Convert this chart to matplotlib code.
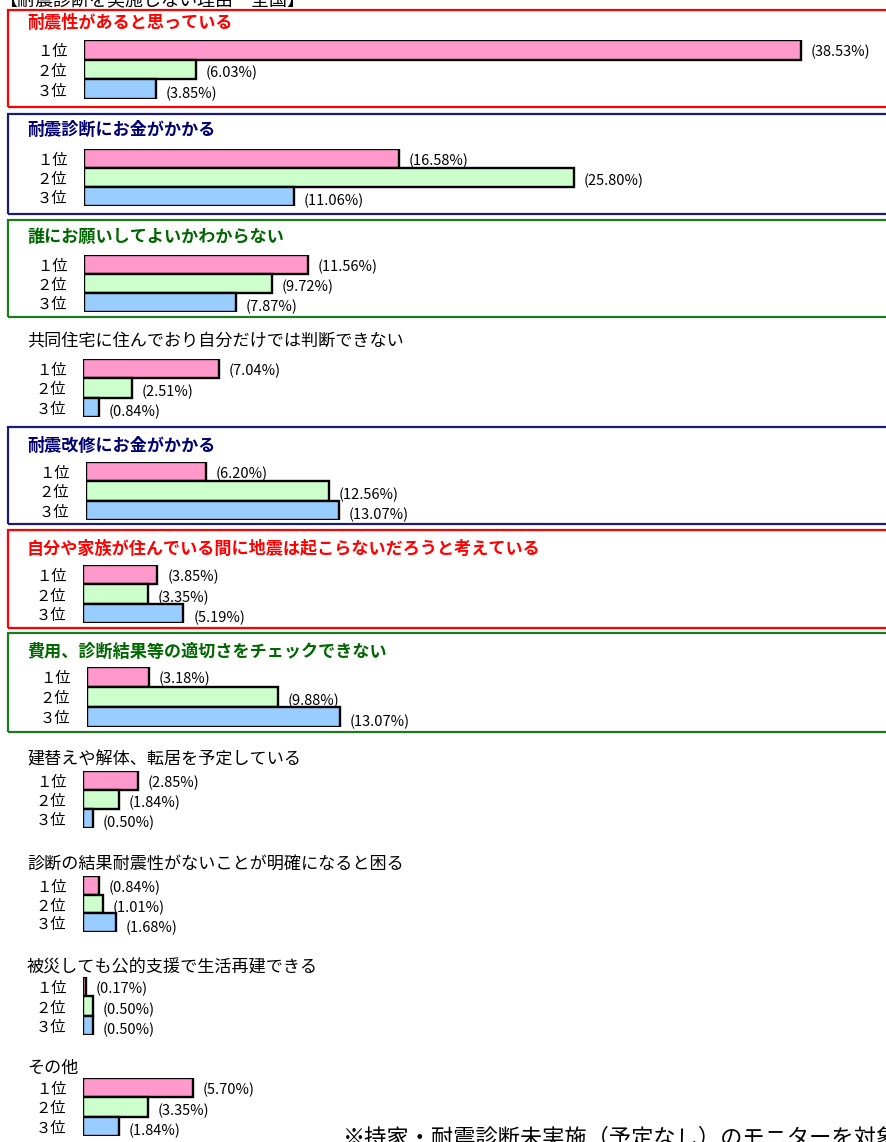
import matplotlib
matplotlib.use("Agg")
import matplotlib.pyplot as plt
from matplotlib.patches import Rectangle

plt.rcParams['font.family'] = ['Noto Sans CJK JP', 'DejaVu Sans']

W, H = 886, 1142

# data
categories = [
    '耐震性があると思っている',
    '耐震診断にお金がかかる',
    '誰にお願いしてよいかわからない',
    '共同住宅に住んでおり自分だけでは判断できない',
    '耐震改修にお金がかかる',
    '自分や家族が住んでいる間に地震は起こらないだろうと考えている',
    '費用、診断結果等の適切さをチェックできない',
    '建替えや解体、転居を予定している',
    '診断の結果耐震性がないことが明確になると困る',
    '被災しても公的支援で生活再建できる',
    'その他',
]
rank_labels = ['１位', '２位', '３位']
rank1 = [38.53, 16.58, 11.56, 7.04, 6.20, 3.85, 3.18, 2.85, 0.84, 0.17, 5.70]
rank2 = [6.03, 25.80, 9.72, 2.51, 12.56, 3.35, 9.88, 1.84, 1.01, 0.50, 3.35]
rank3 = [3.85, 11.06, 7.87, 0.84, 13.07, 5.19, 13.07, 0.50, 1.68, 0.50, 1.84]

header = '【耐震診断を実施しない理由－全国】'
note = '※持家・耐震診断未実施（予定なし）のモニターを対象'

# layout (pixels)
bar_colors = ['#FF99CC', '#CCFFCC', '#99CCFF']
box_style = ['red', 'navy', 'green', None, 'navy', 'red', 'green', None, None, None, None]
line_col = {'red': '#FF0000', 'navy': '#1C1C78', 'green': '#1E7A1E'}
title_col = {'red': '#FF0000', 'navy': '#000070', 'green': '#006600'}
bars_top = [40, 149, 255, 359, 462, 565, 667, 771, 876, 977, 1078]
bars_bot = [99, 206, 312, 417, 520, 623, 727, 828, 932, 1035, 1136]
bar_left = [84, 84, 84, 83, 86, 83, 87, 83, 83, 83, 83]
title_y = [23, 130, 237, 341, 446, 549, 652, 760, 864, 968, 1068]
box_y = [(10, 107), (114, 214), (220, 317), None, (427, 524), (530, 628), (633, 732),
         None, None, None, None]
px_per_pct = [18.6, 19.0, 19.35, 19.35, 19.35, 19.35, 19.35, 19.35, 19.35, 19.35, 19.35]

fig = plt.figure(figsize=(W / 100, H / 100), dpi=100)


def fx(px):
    return px / W


def fy(py):
    return 1 - py / H


# header is cut off at the top edge, as in the source image
fig.text(fx(0), fy(9), header, fontsize=13, va='bottom', ha='left')

for i, cat in enumerate(categories):
    style = box_style[i]
    if box_y[i] is not None:
        y0, y1 = box_y[i]
        fig.add_artist(Rectangle((fx(8), fy(y1)), fx(900) - fx(8), (y1 - y0) / H,
                                 transform=fig.transFigure, fill=False,
                                 edgecolor=line_col[style], linewidth=1.6, clip_on=False))
    if style:
        fig.text(fx(27), fy(title_y[i]), cat, fontsize=12.3, fontweight='bold',
                 color=title_col[style], va='center', ha='left')
    else:
        fig.text(fx(27), fy(title_y[i]), cat, fontsize=12.3, color='black',
                 va='center', ha='left')

    width_px = 780
    ax = fig.add_axes([fx(bar_left[i]), fy(bars_bot[i]), width_px / W,
                       (bars_bot[i] - bars_top[i]) / H])
    vals = [rank1[i], rank2[i], rank3[i]]
    ax.barh([0, 1, 2], vals, height=1.0, color=bar_colors, edgecolor='black',
            linewidth=1.7, align='center')
    ax.set_xlim(0, width_px / px_per_pct[i])
    ax.set_ylim(2.5, -0.5)
    ax.set_frame_on(False)
    ax.set_xticks([])
    ax.set_yticks([0, 1, 2])
    ax.set_yticklabels(rank_labels, fontsize=11)
    ax.tick_params(axis='y', length=0, pad=12)
    for j, v in enumerate(vals):
        ax.annotate(f'({v:.2f}%)', (v, j), xytext=(7, -1.5 - j), textcoords='offset points',
                    fontsize=10.5, va='center', ha='left', annotation_clip=False)

# note runs past the bottom/right edge, as in the source image
fig.text(fx(343), fy(1127), note, fontsize=16, va='top', ha='left')

fig.savefig('out.png', dpi=100)
